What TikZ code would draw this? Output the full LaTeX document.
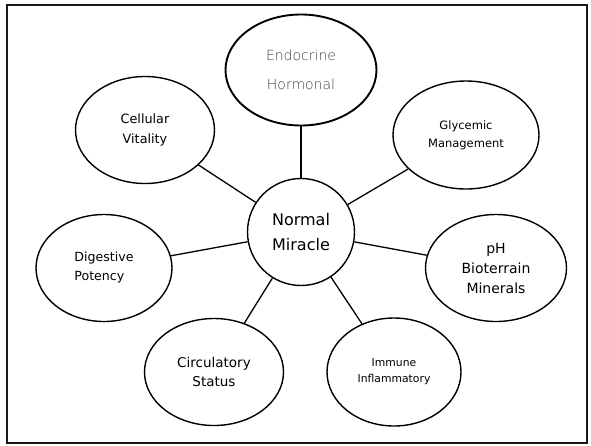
\documentclass[tikz,border=0pt]{standalone}
\usepackage{fontspec}
\setmainfont{DejaVu Sans}
\newfontfamily\thinfont{DejaVu Sans ExtraLight}
\usepackage{tikz}
\usetikzlibrary{positioning,shapes}
\tikzstyle{topic}=[ellipse, draw=black, line width=1.4pt,
  inner sep=0pt, minimum height=107pt, align=center]
\tikzstyle{hub}=[circle, draw=black, line width=1.4pt,
  inner sep=0pt, minimum size=107pt, align=center,
  font=\fontsize{16}{25}\selectfont]
\tikzstyle{line} = [draw, line width=1.3pt]
\newcommand{\joinnodes}[2]{
\draw[line] (#1) -- (#2);
}

\begin{document}
\begin{tikzpicture}[x=1pt, y=-1pt]
    \useasboundingbox (0,0) rectangle (591,445);
    \draw[line width=2.6pt, black!90] (7,5) rectangle (587,443);
    % centre
    \node (hub) [hub] at (301,232) {Normal\\Miracle};
    % ring of topics
    \node (endocrine)
          [topic, minimum width=151pt, minimum height=111pt, line width=1.9pt,
           text=black!75, font=\thinfont\fontsize{14}{29}\selectfont]
          at (301,70) {Endocrine\\Hormonal};
    \node (cellular)
          [topic, minimum width=139pt, font=\fontsize{12.8}{20}\selectfont]
          at (145,130) {Cellular\\Vitality};
    \node (glycemic)
          [topic, minimum width=146pt, minimum height=108pt,
           font=\fontsize{11.5}{18}\selectfont]
          at (466,135) {Glycemic\\Management};
    \node (digestive)
          [topic, minimum width=136pt, align=left,
           font=\fontsize{12.6}{19}\selectfont]
          at (104,268) {Digestive\\Potency};
    \node (ph)
          [topic, minimum width=141pt, font=\fontsize{14}{20}\selectfont]
          at (496,268) {pH\\Bioterrain\\Minerals};
    \node (circulatory)
          [topic, minimum width=139pt, font=\fontsize{13.5}{19}\selectfont]
          at (214,372) {Circulatory\\Status};
    \node (immune)
          [topic, minimum width=134pt, minimum height=108pt,
           font=\fontsize{10.8}{16}\selectfont]
          at (394,372) {Immune\\Inflammatory};
    % spokes
    \joinnodes{hub}{endocrine}
    \joinnodes{hub}{cellular}
    \joinnodes{hub}{glycemic}
    \joinnodes{hub}{digestive}
    \joinnodes{hub}{ph}
    \joinnodes{hub}{circulatory}
    \joinnodes{hub}{immune}
\end{tikzpicture}
\end{document}
